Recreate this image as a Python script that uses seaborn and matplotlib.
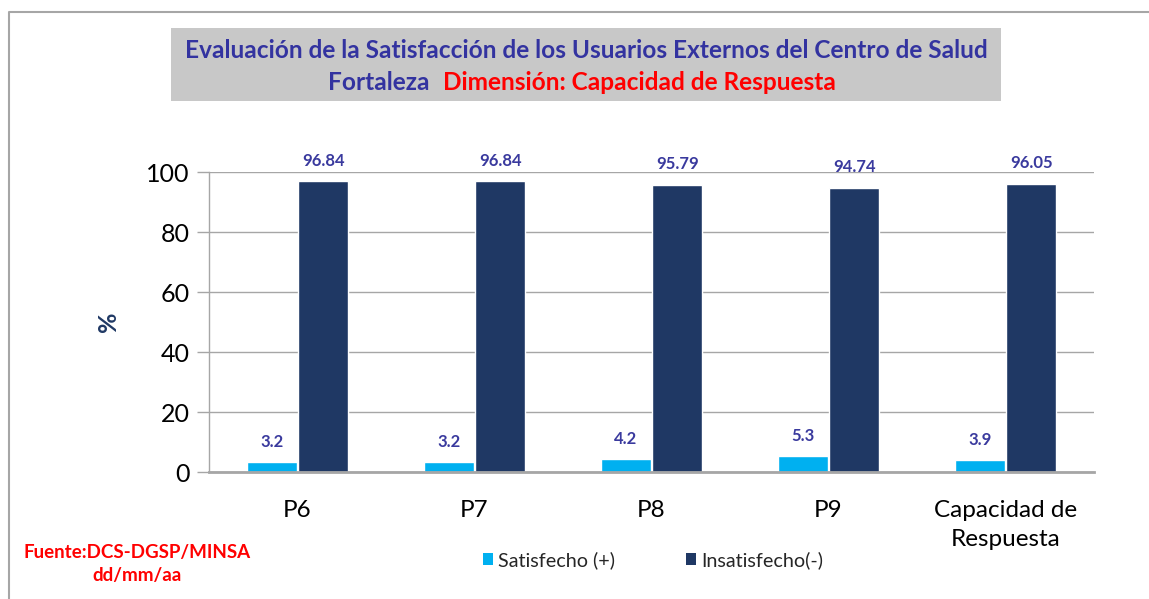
import matplotlib
matplotlib.use("Agg")
import matplotlib.pyplot as plt
import seaborn as sns
import pandas as pd
from matplotlib.patches import Rectangle, Patch
from matplotlib.lines import Line2D

categories = ["P6", "P7", "P8", "P9", "Capacidad de\nRespuesta"]
series_names = ["Satisfecho (+)", "Insatisfecho(-)"]
satisfecho = [3.2, 3.2, 4.2, 5.3, 3.9]
insatisfecho = [96.84, 96.84, 95.79, 94.74, 96.05]
yticks = [0, 20, 40, 60, 80, 100]
colors = ["#00B0F0", "#1F3864"]

sns.set_theme(style="white")
FONT = ["Lato", "DejaVu Sans"]
plt.rcParams["font.family"] = FONT

df = pd.DataFrame({
    "categoria": categories * 2,
    "valor": satisfecho + insatisfecho,
    "serie": [series_names[0]] * len(categories) + [series_names[1]] * len(categories),
})

W, H = 1149, 599
fig = plt.figure(figsize=(W / 100, H / 100), dpi=100)
fig.patch.set_facecolor("white")

def fx(px):
    return px / W

def fy(py):
    return 1 - py / H

# outer frame (left and top edges only visible)
fig.lines.append(Line2D([fx(9), fx(9), fx(1160)], [fy(620), fy(12), fy(12)],
                        transform=fig.transFigure, color="#A6A6A6", linewidth=1.5,
                        zorder=0))

ax = fig.add_axes([fx(209), fy(472), fx(1094) - fx(209), fy(172) - fy(472)])
sns.barplot(data=df, x="categoria", y="valor", hue="serie", palette=colors,
            width=0.58, gap=0.03, ax=ax, legend=False, saturation=1)

ax.set_ylim(0, 100)
ax.set_xlim(-0.5, len(categories) - 0.5)
ax.set_yticks(yticks)
ax.set_yticklabels([str(t) for t in yticks], fontsize=18, color="black")
ax.tick_params(axis="y", length=9, color="#A6A6A6", width=1, pad=5, left=True)
ax.set_xticks(range(len(categories)))
ax.set_xticklabels(categories, fontsize=17.5, color="black", linespacing=1.5)
ax.tick_params(axis="x", length=0, pad=20)
ax.set_xlabel("")
ax.set_ylabel("%", fontsize=18, fontweight="bold", color="#1F3864")
ax.yaxis.set_label_coords((120 - 209) / 885, 0.5)
ax.yaxis.grid(True, color="#A6A6A6", linewidth=1)
ax.set_axisbelow(True)
for s in ["top", "right"]:
    ax.spines[s].set_visible(False)
ax.spines["left"].set_color("#A6A6A6")
ax.spines["left"].set_linewidth(1)
ax.spines["bottom"].set_color("#A6A6A6")
ax.spines["bottom"].set_linewidth(2)

fmts = ["%.1f", "%.2f"]
for cont, fmt in zip(ax.containers, fmts):
    ax.bar_label(cont, fmt=fmt, padding=9, fontsize=12, fontweight="bold",
                 color="#3A3A9E")

# title box
fig.patches.append(Rectangle((fx(171), fy(101)), fx(1001) - fx(171), fy(28) - fy(101),
                             transform=fig.transFigure, facecolor="#C8C8C8",
                             edgecolor="none", zorder=0))
TS = 17.6
fig.text(fx(586), fy(50), "Evaluación de la Satisfacción de los Usuarios Externos del Centro de Salud",
         ha="center", va="center", fontsize=TS, fontweight="bold", color="#3333A0")
fig.text(fx(429), fy(83), "Fortaleza", ha="right", va="center", fontsize=TS,
         fontweight="bold", color="#3333A0")
fig.text(fx(443), fy(83), "Dimensión: Capacidad de Respuesta", ha="left", va="center",
         fontsize=TS, fontweight="bold", color="#FF0000")

# source
fig.text(fx(137), fy(564), "Fuente:DCS-DGSP/MINSA\ndd/mm/aa", ha="center", va="center",
         fontsize=13.5, fontweight="bold", color="#FF0000", linespacing=1.45)

# legend
handles = [Patch(facecolor=c, edgecolor="none") for c in colors]
fig.legend(handles, series_names, loc="center", bbox_to_anchor=(fx(653), fy(560)),
           ncol=2, frameon=False, fontsize=14.2, handlelength=0.5, handleheight=0.6,
           handletextpad=0.25, columnspacing=3.6)

fig.savefig("out.png", dpi=100)
